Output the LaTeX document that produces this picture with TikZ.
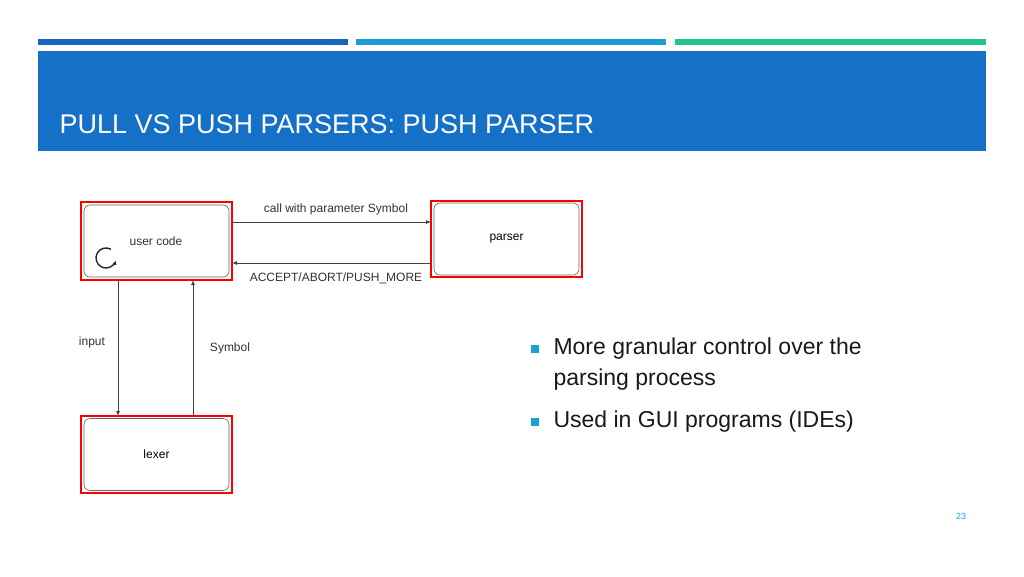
\documentclass[tikz,border=0pt]{standalone}
\usepackage{fontspec}
\setmainfont{Liberation Sans}
\usetikzlibrary{arrows.meta}
\definecolor{hdr}{HTML}{1570C8}
\definecolor{bar1}{HTML}{1565C0}
\definecolor{bar2}{HTML}{1B9AD6}
\definecolor{bar3}{HTML}{22C38E}
\definecolor{bul}{HTML}{1BA0D0}
\begin{document}
\begin{tikzpicture}[x=1pt,y=-1pt,
  redbox/.style={draw=red,line width=2pt},
  inner/.style={draw=black!60,rounded corners=6pt,line width=0.6pt,minimum width=145pt,minimum height=72pt,font=\fontsize{12}{14}\selectfont},
  conn/.style={draw=black!75,line width=0.8pt,-{Latex[length=5pt,width=4pt]}},
  lbl/.style={font=\fontsize{12}{14}\selectfont,text=black!80},
  btext/.style={anchor=west,font=\fontsize{23}{27}\selectfont,text=black!90}]
\useasboundingbox (0,0) rectangle (1024,576);
\fill[white] (0,0) rectangle (1024,576);
\fill[bar1] (38,39) rectangle (348,45);
\fill[bar2] (356,39) rectangle (666,45);
\fill[bar3] (675,39) rectangle (986,45);
\fill[hdr] (38,51) rectangle (986,151);
\node[anchor=base west,text=white,font=\fontsize{27}{32}\selectfont] (title) at (56,133) {PULL VS PUSH PARSERS: PUSH PARSER};
% boxes
\draw[redbox] (81,202) rectangle (232,280);
\node[inner] (uc) at (156.5,241) {};
\node[lbl] (uct) at (156,241) {user code};
\draw[redbox] (431,201) rectangle (582,277);
\node[inner] (ps) at (506.5,239) {parser};
\draw[redbox] (81,416) rectangle (232,493);
\node[inner] (lx) at (156.5,454.5) {lexer};
% loop symbol
\draw[black!85,line width=1.4pt,-{Latex[length=4pt,width=4pt]}] (111,249.3) arc[start angle=-60,end angle=-345,radius=10];
% connectors
\coordinate (a1) at (232,222); \coordinate (a2) at (431,222);
\draw[conn] (a1) -- (a2);
\coordinate (b1) at (431,263); \coordinate (b2) at (232,263);
\draw[conn] (b1) -- (b2);
\node[lbl] (l1) at (336,209) {call with parameter Symbol};
\node[lbl] (l2) at (336,278) {ACCEPT/ABORT/PUSH\_MORE};
\coordinate (c1) at (118,280); \coordinate (c2) at (118,416);
\draw[conn] (c1) -- (c2);
\coordinate (d1) at (193,416); \coordinate (d2) at (193,280);
\draw[conn] (d1) -- (d2);
\node[lbl] (l3) at (92,342) {input};
\node[lbl] (l4) at (230,348) {Symbol};
% bullets
\fill[bul] (531,345) rectangle (539,353);
\node[btext] (t1) at (550,349) {More granular control over the};
\node[btext] (t2) at (550,380) {parsing process};
\fill[bul] (531,418) rectangle (539,426);
\node[btext] (t3) at (550,422) {Used in GUI programs (IDEs)};
\node[text=bul,font=\fontsize{9}{11}\selectfont] (pg) at (961,516) {23};
\end{tikzpicture}
\end{document}
